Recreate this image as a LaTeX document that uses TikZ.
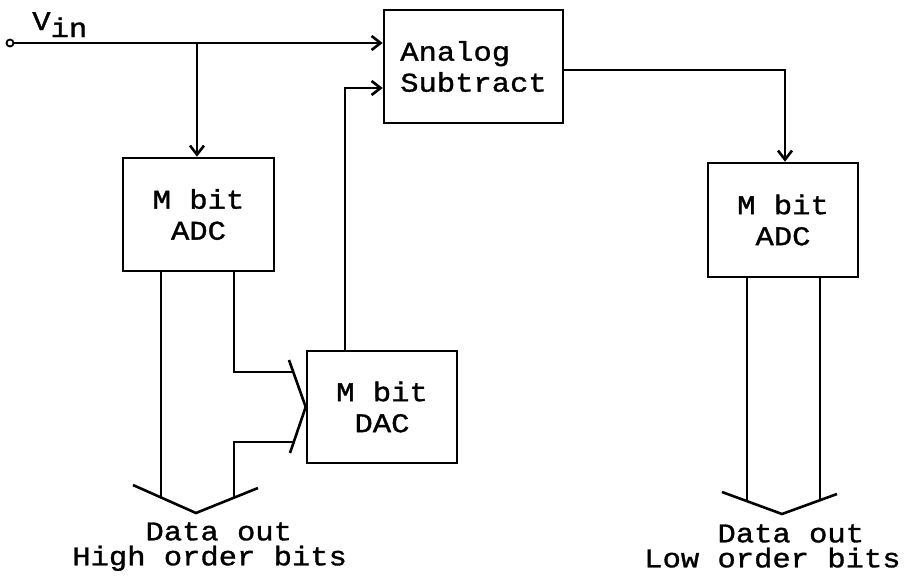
\documentclass[tikz,border=0pt]{standalone}
\usepackage{fontspec}
\newfontfamily\typer[FakeStretch=1.13, FakeBold=1.2]{Liberation Mono}
\usetikzlibrary{arrows.meta, positioning, calc}

\begin{document}
\begin{tikzpicture}[x=1pt, y=-1pt, line width=2.6pt,
  blk/.style={draw, minimum width=150pt, minimum height=113pt, inner sep=0pt, align=center, font=\typer\fontsize{27}{31}\selectfont},
  arr/.style={-{Straight Barb[length=9pt, width=14pt]}},
  lbl/.style={inner sep=0pt, align=left, font=\typer\fontsize{27}{25}\selectfont}]

\useasboundingbox (0,0) rectangle (905,581);

% Input terminal
\node[circle, draw, line width=1.8pt, inner sep=0pt, minimum size=7pt] (vin) at (10,43) {};
\node[anchor=base west, inner sep=0pt, font=\typer\fontsize{27}{31}\selectfont] (vinlbl) at (31,30) {V\raisebox{-7pt}{in}};

% Blocks
\node[blk, minimum width=179pt, align=left] (sub) at (473.5,66.5) {Analog\\Subtract};
\node[blk, minimum width=151pt] (adcH) at (198.5,214.5) {M bit\\ADC};
\node[blk, minimum height=112pt] (dac)  at (382,407) {M bit\\DAC};
\node[blk, minimum height=114pt] (adcL) at (783,220) {M bit\\ADC};

% Bus arrow points
\coordinate (j1) at (197,43);
\coordinate (hA) at (133,485);
\coordinate (hTip) at (196,513);
\coordinate (hB) at (258,488);
\coordinate (hL) at (161,497.4);
\coordinate (hR) at (234,497.7);
\coordinate (dA) at (289,360);
\coordinate (dB) at (290,453);
\coordinate (dU) at (293.5,372);
\coordinate (dD) at (294,442);
\coordinate (lA) at (722,492);
\coordinate (lTip) at (782,514);
\coordinate (lB) at (837,494);
\coordinate (lL) at (747,501);
\coordinate (lR) at (820,500);

% Analog path
\draw[arr] (vin.east) -- (sub.west |- vin);
\draw[arr] (j1) -- (j1 |- adcH.north);
\draw[arr] ([xshift=-37pt]dac.north) |- ([yshift=-21.5pt]sub.west);
\draw[arr] ([yshift=-3.5pt]sub.east) -| ([xshift=2pt]adcL.north);

% High order bus
\draw (hA) -- (hTip) -- (hB);
\draw (hL |- adcH.south) -- (hL);
\draw (hR |- adcH.south) |- (dU);
\draw (hR) |- (dD);
\draw (dA) -- (dac.west) -- (dB);

% Low order bus
\draw (lA) -- (lTip) -- (lB);
\draw (lL |- adcL.south) -- (lL);
\draw (lR |- adcL.south) -- (lR);

% Outputs
\node[lbl, anchor=north west] (outH) at (71,521) {\hphantom{Data}Data out\\High order bits};
\node[lbl, anchor=north west] (outL) at (643,523) {\hphantom{Data}Data out\\Low order bits};

\end{tikzpicture}
\end{document}
